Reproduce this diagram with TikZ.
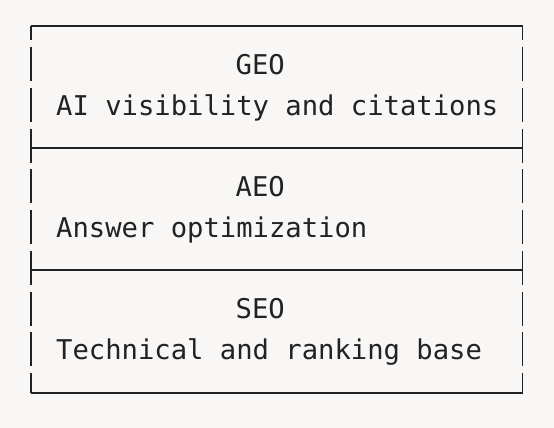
\documentclass[tikz,border=0pt]{standalone}
\usepackage{fontspec}
\newfontfamily\monofont{DejaVu Sans Mono}
\definecolor{bgc}{HTML}{F8F7F5}
\definecolor{ink}{HTML}{222222}
\begin{document}
\begin{tikzpicture}[x=1pt,y=-1pt,
  lbl/.style={anchor=base west,inner sep=0pt,text=ink,font=\monofont\fontsize{27.2}{27.2}\selectfont},
  hline/.style={draw=ink,line width=1.8pt},
  vline/.style={draw=ink,line width=1.8pt,dash pattern=on 34pt off 6.75pt,dash phase=19.75pt}]
\fill[bgc] (0,0) rectangle (554,428);
\useasboundingbox (0,0) rectangle (554,428);
\coordinate (tl) at (31,26);
\coordinate (tr) at (522.5,26);
\coordinate (bl) at (31,393);
\coordinate (br) at (522.5,393);
\coordinate (d1l) at (31,148);
\coordinate (d1r) at (522.5,148);
\coordinate (d2l) at (31,270);
\coordinate (d2r) at (522.5,270);
\draw[hline] (tl) -- (tr);
\draw[hline] (d1l) -- (d1r);
\draw[hline] (d2l) -- (d2r);
\draw[hline] (bl) -- (br);
\draw[vline] (tl) -- (bl);
\draw[vline] (tr) -- (br);
\node[lbl] (geo) at (235.5,74.3) {GEO};
\node[lbl] (geod) at (56,115) {AI visibility and citations};
\node[lbl] (aeo) at (235.5,196.5) {AEO};
\node[lbl] (aeod) at (56,237.3) {Answer optimization};
\node[lbl] (seo) at (235.5,318.8) {SEO};
\node[lbl] (seod) at (56,359.5) {Technical and ranking base};
\end{tikzpicture}
\end{document}
